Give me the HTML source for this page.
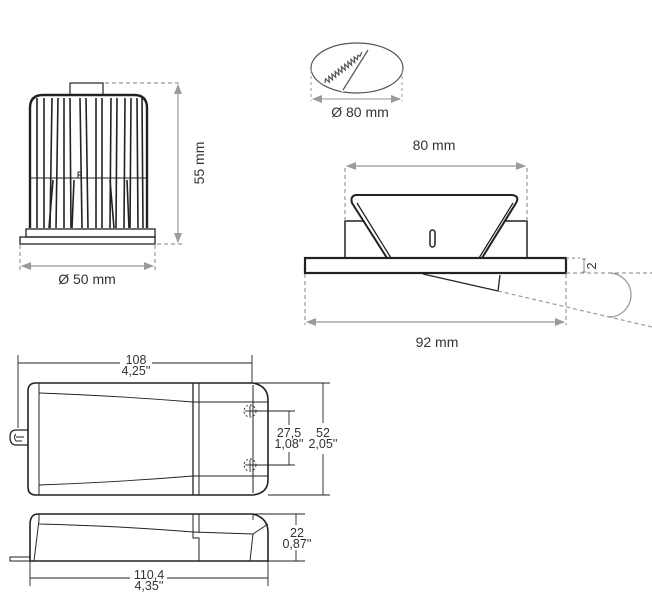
<!DOCTYPE html>
<html><head><meta charset="utf-8"><style>
html,body{margin:0;padding:0;background:#fff}
svg{display:block}
text{font-family:"Liberation Sans",sans-serif;fill:#333}
</style></head><body>
<svg width="652" height="599" viewBox="0 0 652 599" xmlns="http://www.w3.org/2000/svg">
<defs>
<marker id="ag" markerWidth="10" markerHeight="8" refX="9" refY="4" orient="auto-start-reverse" markerUnits="userSpaceOnUse"><path d="M0,0 L10,4 L0,8 z" fill="#9a9a9a"/></marker>
</defs>

<!-- LAMP -->
<g stroke="#222" fill="none" stroke-width="1.5">
<rect x="70" y="83" width="33" height="12" stroke-width="1.2"/>
<path d="M30,228 L30,108 Q30,95 43,95 L134,95 Q147,95 147,108 L147,228" stroke-width="2.4"/>
<line x1="30" y1="178" x2="147" y2="178" stroke-width="1"/>
<g stroke-width="1.6">
<path d="M37,98 L37,228 M44,98 L44,228"/>
<path d="M52,98 L50,228 M58,98 L56,228"/>
<path d="M64,98 L64,228 M70,98 L71,228"/>
<path d="M80,98 L82,228 M86,98 L88,228"/>
<path d="M96,98 L96,228 M102,98 L102,228"/>
<path d="M111,98 L110,228 M117,98 L116,228"/>
<path d="M125,98 L124,228 M131,98 L130,228"/>
<path d="M137,98 L138,228 M142,98 L143,228"/>
<path d="M53,180 L49,228 M74,180 L72,228 M110,180 L114,228 M127,180 L129,228"/>
</g>
<path d="M78,172 L78,178 M78,172 L81,172 L81,175 L78,175" stroke-width="1"/>
<rect x="26" y="229" width="129" height="8" stroke-width="1.3"/>
<rect x="20" y="237" width="135" height="7" stroke-width="1.3"/>
</g>
<g stroke="#999" stroke-width="1.2" fill="none">
<line x1="105" y1="83" x2="182" y2="83" stroke-dasharray="4,3"/>
<line x1="157" y1="244" x2="182" y2="244" stroke-dasharray="4,3"/>
<line x1="178" y1="85" x2="178" y2="242" marker-start="url(#ag)" marker-end="url(#ag)"/>
<line x1="20" y1="245" x2="20" y2="270" stroke-dasharray="4,3"/>
<line x1="155" y1="245" x2="155" y2="270" stroke-dasharray="4,3"/>
<line x1="22" y1="266" x2="153" y2="266" marker-start="url(#ag)" marker-end="url(#ag)"/>
</g>
<text x="204" y="163" font-size="14" text-anchor="middle" transform="rotate(-90 204 163)" fill="#444">55 mm</text>
<text x="87" y="284" font-size="14" text-anchor="middle">Ø 50 mm</text>

<!-- CUTOUT -->
<g fill="none" stroke="#555" stroke-width="1.2">
<ellipse cx="357" cy="68" rx="46" ry="25"/>
<polygon points="323,84 369,49 343,92" fill="#fff" stroke="none"/>
<path d="M368,50 L343,90"/>
<g transform="translate(325,83) rotate(-37.5)">
<path d="M0,0 l3,-3 l1,5 l3,-5 l1,5 l3,-5 l1,5 l3,-5 l1,5 l3,-5 l1,5 l3,-5 l1,5 l3,-5 l1,5 l3,-5 l1,5 l3,-5 l1,5 l3,-5 l1,4 l3,-3 l1,2 l4,-2"/>
</g>
</g>
<g stroke="#aaa" stroke-width="1.2" fill="none">
<line x1="311" y1="70" x2="311" y2="101" stroke-dasharray="3,3"/>
<line x1="402" y1="70" x2="402" y2="101" stroke-dasharray="3,3"/>
<line x1="313" y1="99" x2="400" y2="99" marker-start="url(#ag)" marker-end="url(#ag)"/>
</g>
<text x="360" y="117" font-size="14" text-anchor="middle">Ø 80 mm</text>

<!-- FITTING -->
<g stroke="#222" fill="none">
<rect x="345" y="221" width="182" height="37" stroke-width="1.5"/>
<path d="M356,195 L512,195 Q520,196 516,203 L482,258 L387,258 L352,203 Q350,196 356,195 Z" fill="#fff" stroke-width="2"/>
<path d="M357,203 L391,258 M513,203 L479,258" stroke-width="1.3"/>
<rect x="430" y="230" width="5" height="17" rx="2.5" stroke-width="1.5"/>
<rect x="305" y="258" width="261" height="15" fill="#fff" stroke-width="2.2"/>
<path d="M423,274 L498,291 L500,275" stroke-width="1.3"/>
</g>
<g stroke="#999" stroke-width="1.2" fill="none">
<line x1="345" y1="168" x2="345" y2="221" stroke-dasharray="4,3"/>
<line x1="527" y1="168" x2="527" y2="221" stroke-dasharray="4,3"/>
<line x1="347" y1="166" x2="525" y2="166" marker-start="url(#ag)" marker-end="url(#ag)"/>
<line x1="305" y1="274" x2="305" y2="325" stroke-dasharray="4,3"/>
<line x1="566" y1="274" x2="566" y2="325" stroke-dasharray="4,3"/>
<line x1="307" y1="322" x2="564" y2="322" marker-start="url(#ag)" marker-end="url(#ag)"/>
<line x1="566" y1="258" x2="580" y2="258" stroke-dasharray="3,3"/>
<line x1="566" y1="273" x2="652" y2="273" stroke-dasharray="4,3"/>
<line x1="498" y1="291" x2="652" y2="327" stroke-dasharray="4,3"/>
<line x1="584" y1="259" x2="584" y2="272"/>
<path d="M582,259 h4 M582,272 h4"/>
<path d="M610,273 A22,22 0 0 1 608,317"/>
</g>
<text x="596" y="266" font-size="13" text-anchor="middle" transform="rotate(-90 596 266)">2</text>
<text x="434" y="150" font-size="14" text-anchor="middle">80 mm</text>
<text x="437" y="347" font-size="14" text-anchor="middle">92 mm</text>

<!-- DRIVER TOP -->
<g stroke="#222" fill="none" stroke-width="1.3">
<path d="M36,383 L253,383 Q268,386 268,400 L268,480 Q268,493 253,495 L36,495 Q28,495 28,487 L28,391 Q28,383 36,383 Z" stroke-width="1.6"/>
<line x1="39" y1="383" x2="39" y2="495" stroke-width="1"/>
<line x1="193" y1="383" x2="193" y2="495"/>
<line x1="199" y1="383" x2="199" y2="495" stroke-width="1"/>
<line x1="253" y1="385" x2="253" y2="493" stroke-width="1"/>
<path d="M39,393 Q120,396 193,402 L268,402 M39,485 Q120,482 193,476 L268,476" stroke-width="0.9"/>
<path d="M28,430 L16,430 Q10,430 10,437 Q10,445 16,445 L28,445" />
<path d="M16,434 Q13,437 16,441 L22,441 M16,437 L24,437" stroke-width="1"/>
<circle cx="250" cy="411" r="6" stroke-dasharray="2,2" stroke-width="0.9"/>
<circle cx="250" cy="465" r="6" stroke-dasharray="2,2" stroke-width="0.9"/>
</g>
<g stroke="#222" stroke-width="0.9" fill="none">
<line x1="18" y1="355" x2="18" y2="428"/>
<line x1="252" y1="355" x2="252" y2="383"/>
<line x1="18" y1="363" x2="120" y2="363"/>
<line x1="152" y1="363" x2="252" y2="363"/>
<line x1="255" y1="383" x2="330" y2="383"/>
<line x1="268" y1="495" x2="330" y2="495"/>
<line x1="323" y1="383" x2="323" y2="423"/>
<line x1="323" y1="454" x2="323" y2="495"/>
<line x1="250" y1="411" x2="295" y2="411"/>
<line x1="250" y1="465" x2="295" y2="465"/>
<line x1="289" y1="411" x2="289" y2="425"/>
<line x1="289" y1="452" x2="289" y2="465"/>
<line x1="245" y1="411" x2="255" y2="411"/><line x1="250" y1="406" x2="250" y2="416"/>
<line x1="245" y1="465" x2="255" y2="465"/><line x1="250" y1="460" x2="250" y2="470"/>
</g>
<g font-size="12.5" text-anchor="middle">
<text x="136" y="364">108</text><text x="136" y="375">4,25''</text>
<text x="289" y="437">27,5</text><text x="289" y="448">1,08''</text>
<text x="323" y="437">52</text><text x="323" y="448">2,05''</text>
</g>

<!-- DRIVER SIDE -->
<g stroke="#222" fill="none" stroke-width="1.3">
<path d="M38,514 L253,514 Q268,518 268,532 L268,561 L30,561 L30,525 Q30,514 38,514 Z" stroke-width="1.6"/>
<path d="M39,514 L39,520 L34,561 M39,524 Q120,526 193,532 L253,534 L268,524 M253,534 L250,561 M193,514 L193,538 L199,538 L199,561 M199,514 L199,533" stroke-width="1"/>
<path d="M253,514 L253,520" stroke-width="0.9"/>
<rect x="10" y="557" width="20" height="4" stroke-width="1"/>
</g>
<g stroke="#222" stroke-width="0.9" fill="none">
<line x1="255" y1="514" x2="305" y2="514"/>
<line x1="268" y1="561" x2="305" y2="561"/>
<line x1="296" y1="514" x2="296" y2="525"/>
<line x1="296" y1="550" x2="296" y2="561"/>
<line x1="30" y1="561" x2="30" y2="586"/>
<line x1="268" y1="561" x2="268" y2="586"/>
<line x1="30" y1="578" x2="130" y2="578"/>
<line x1="167" y1="578" x2="268" y2="578"/>
</g>
<g font-size="12.5" text-anchor="middle">
<text x="297" y="537">22</text><text x="297" y="548">0,87''</text>
<text x="149" y="579">110,4</text><text x="149" y="590">4,35''</text>
</g>
</svg>
</body></html>
